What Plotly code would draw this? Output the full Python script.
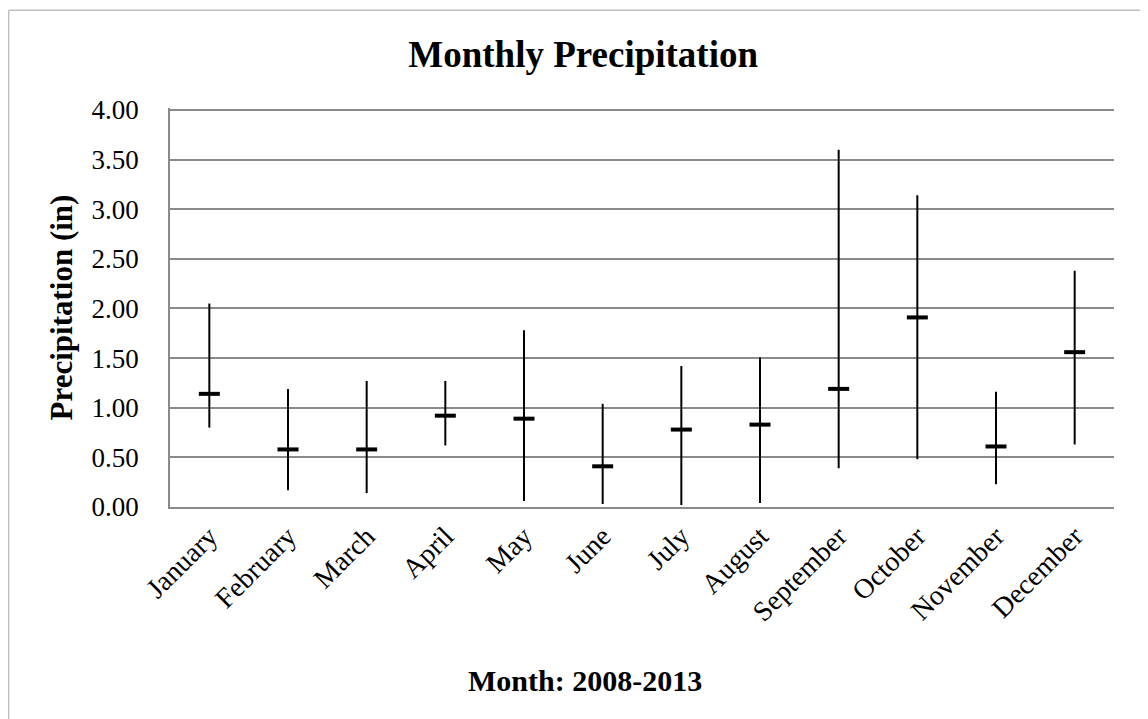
import plotly.graph_objects as go

months = ["January", "February", "March", "April", "May", "June", "July",
          "August", "September", "October", "November", "December"]
highs = [2.05, 1.19, 1.27, 1.27, 1.78, 1.04, 1.42, 1.51, 3.60, 3.14, 1.16, 2.38]
means = [1.14, 0.58, 0.58, 0.92, 0.89, 0.41, 0.78, 0.83, 1.19, 1.91, 0.61, 1.56]
lows = [0.80, 0.17, 0.14, 0.62, 0.06, 0.03, 0.02, 0.04, 0.39, 0.48, 0.23, 0.63]
y_ticks = [0, 0.5, 1.0, 1.5, 2.0, 2.5, 3.0, 3.5, 4.0]

FONT = "Liberation Serif, Times New Roman, serif"

fig = go.Figure()
fig.add_trace(go.Scatter(
    x=months, y=means, mode="markers",
    marker=dict(symbol="line-ew", size=15, color="black",
                line=dict(color="black", width=4)),
    error_y=dict(type="data", symmetric=False,
                 array=[h - m for h, m in zip(highs, means)],
                 arrayminus=[m - l for m, l in zip(means, lows)],
                 color="black", thickness=2, width=0),
    showlegend=False, hoverinfo="x+y",
))

fig.update_layout(
    width=1148, height=719,
    margin=dict(l=162, r=42, t=100, b=220),
    paper_bgcolor="white", plot_bgcolor="white",
    font=dict(family=FONT, color="black"),
    title=dict(text="<b>Monthly Precipitation</b>", x=0.501, xanchor="center",
               y=0.936, yanchor="middle", font=dict(size=37, family=FONT)),
    xaxis=dict(
        type="category", range=[-0.5, 11.5], tickangle=-45,
        tickfont=dict(size=28, family=FONT),
        showgrid=False, showline=True, linecolor="#8a8a8a", linewidth=1.5,
        ticks="",
    ),
    yaxis=dict(
        range=[0, 4.02], tickvals=y_ticks, tickformat=".2f",
        tickfont=dict(size=27, family=FONT), ticklabelstandoff=24,
        showgrid=True, gridcolor="#8a8a8a", gridwidth=1.5,
        showline=True, linecolor="#8a8a8a", linewidth=1.5, ticks="",
        zeroline=False,
        title=dict(text="<b>Precipitation (in)</b>", standoff=10,
                   font=dict(size=31, family=FONT)),
    ),
    annotations=[
        dict(text="<b>Month: 2008-2013</b>", xref="paper", yref="paper",
             x=0.44, y=-0.436, xanchor="center", yanchor="middle",
             showarrow=False, font=dict(size=30, family=FONT)),
    ],
    shapes=[
        dict(type="line", xref="paper", yref="paper", x0=-0.171, x1=1.06,
             y0=1.245, y1=1.245, line=dict(color="#bdbdbd", width=1.5)),
        dict(type="line", xref="paper", yref="paper", x0=-0.171, x1=-0.171,
             y0=1.245, y1=-0.6, line=dict(color="#bdbdbd", width=1.5)),
    ],
)

fig.write_html("out.html")
